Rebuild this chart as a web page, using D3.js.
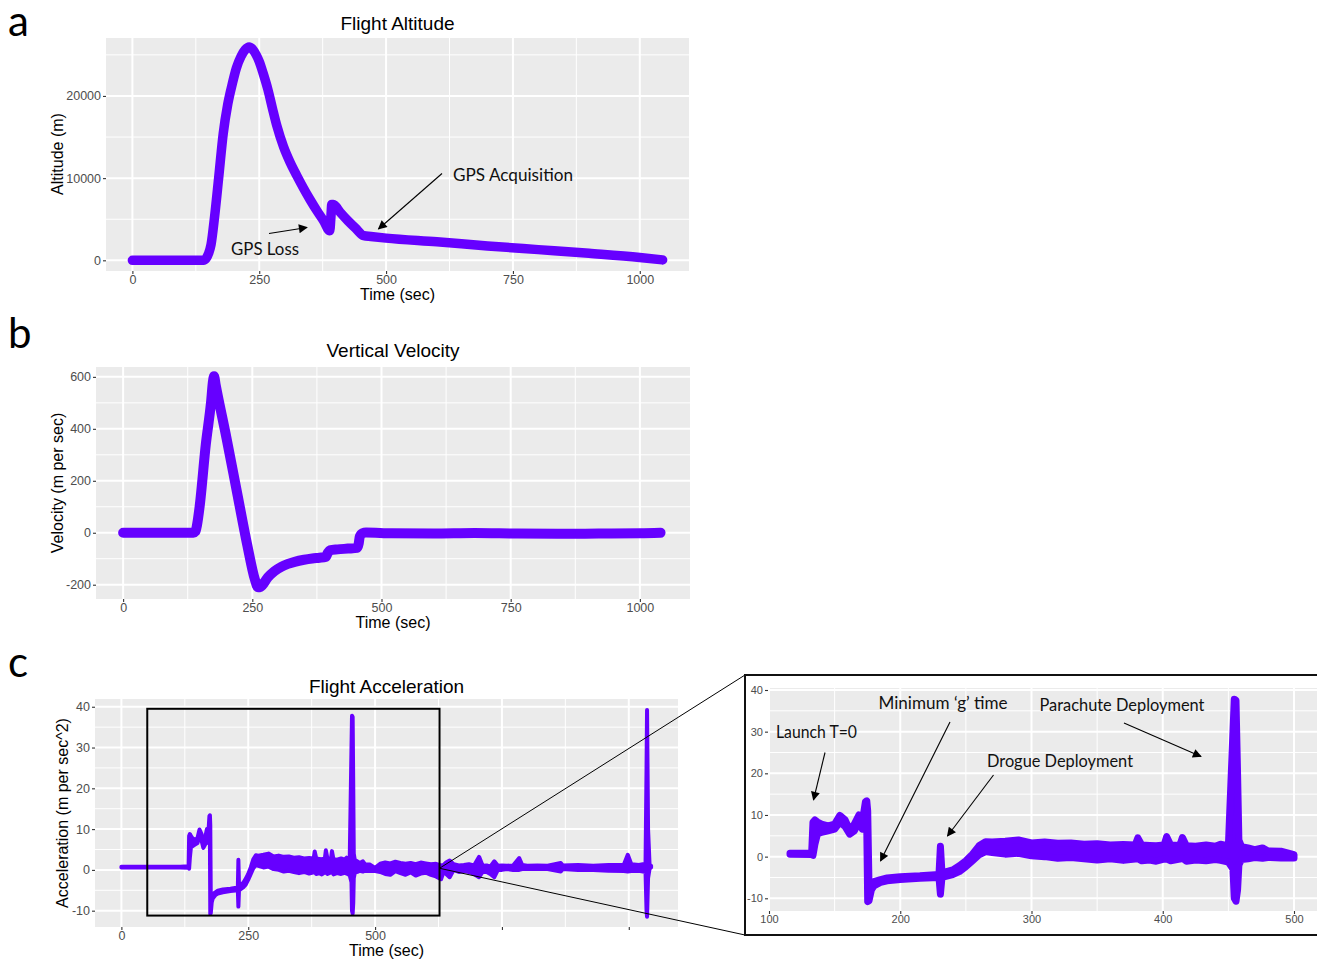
<!DOCTYPE html>
<html>
<head>
<meta charset="utf-8">
<script src="https://cdn.jsdelivr.net/npm/d3@7"></script>
<style>body{margin:0;background:#fff;}</style>
</head>
<body>
<div id="fig"></div>
<script>
var width = 1317;
var height = 959;
var purple = "#6600ff";
var axisFont = "'Liberation Sans', Arial, sans-serif";
var noteFont = "Lato, 'Open Sans', sans-serif";

// panel a: [time (sec), altitude (m)]
var altitude = [
  [0, 0], [140, 0], [145, 200], [150, 800], [155, 1900], [162, 5300], [170, 10000],
  [179, 15400], [188, 19000], [197, 21500], [205, 23400], [214, 24800], [222, 25600],
  [230, 25950], [238, 25600], [244, 25000], [250, 24200], [258, 22700], [267, 20800],
  [276, 18500], [285, 16300], [298, 13800], [311, 11900], [324, 10300], [337, 8800],
  [350, 7400], [364, 6000], [377, 4800], [389, 3600], [391, 5000], [393, 6800],
  [396, 6800], [410, 5800], [425, 4800], [440, 3900], [456, 3000], [470, 2900],
  [500, 2700], [600, 2250], [700, 1750], [800, 1300], [900, 850], [1000, 350], [1045, 50]
];

// panel b: [time (sec), velocity (m/s)]
var velocity = [
  [0, 0], [136, 0], [140, 5], [143, 30], [148, 100], [160, 340], [170, 500],
  [174, 585], [176, 602], [179, 570], [200, 365], [220, 160], [240, -45],
  [255, -180], [261, -210], [266, -208], [280, -172], [293, -148], [306, -131],
  [319, -120], [332, -112], [350, -104], [366, -99], [380, -96], [392, -93],
  [396, -78], [400, -68], [415, -64], [435, -61], [453, -58], [456, -40],
  [458, -15], [463, -2], [470, 1], [520, -2], [600, -3], [680, -1], [760, -3],
  [840, -4], [920, -3], [1000, -2], [1040, 0]
];

// panel c: [time (sec), low, high] of the acceleration band (m/s^2)
var accel = [
  [0, 0.6, 0.8], [116, 0.6, 0.8], [132.5, 0.5, 0.9], [133.5, 0.3, 8.3], [135, 3, 8.8],
  [137, 5.5, 8.3], [140, 5.8, 7.8], [145, 6.2, 7.4], [150, 6.6, 7.8], [154, 8.3, 9.9],
  [158, 7.2, 8.8], [161.5, 5.4, 6.4], [165, 6.2, 7.8], [168.5, 8.3, 10], [171, 6.6, 8.2],
  [173.5, 9, 13.2], [174.5, 6.5, 13.4], [175.2, -10.8, 11], [176.2, -10.6, -7],
  [178, -8, -6.5], [180, -7, -6], [185, -6.2, -5.5], [190, -5.8, -5.1], [200, -5.5, -4.8],
  [215, -5.2, -4.6], [229.5, -5, -4.3], [230.6, -9, 2.5], [231.8, -5, -3.9],
  [240, -4.3, -3.2], [245, -3.6, -2.2], [250, -2.4, -1], [255, -1, 0.6], [260, 0.4, 2.6],
  [265, 1.2, 3.6], [270, 1, 3.5], [280, 0.6, 3.7], [290, 0.8, 4], [300, 0.2, 3.3],
  [310, 0, 3.5], [320, -0.4, 3.2], [330, -0.2, 3.3], [340, -0.5, 3], [350, -0.8, 3.1],
  [360, -0.5, 2.8], [370, -0.9, 2.9], [379, -0.6, 2.8], [381, -0.5, 4.5], [384, -1, 2.8],
  [390, -0.8, 2.7], [395, -1.1, 2.6], [401, -0.6, 2.8], [403, -0.6, 4.8], [406, -1, 2.8],
  [413, -0.6, 2.7], [415, -0.4, 4.6], [418, -1.1, 2.6], [425, -0.8, 2.5], [433, -1, 2.8],
  [440, -0.7, 2.5], [444, -0.9, 3], [450, -1.3, 2.6], [453.5, -3, 30], [454.5, -10, 37.8],
  [455.8, -10.7, 37.5], [457, -8, 20], [458, -2, 4], [460, -0.7, 2.4], [465, -0.5, 2.1],
  [470, -0.2, 1.7], [476, -0.4, 2.1], [480, -0.2, 1.4], [490, -0.3, 1.3], [500, -0.3, 0.5],
  [510, -0.5, 1.5], [520, -1, 1.8], [530, -1.2, 1.6], [540, -0.3, 2], [550, -0.8, 1.7],
  [560, -1.2, 1.5], [570, -0.6, 1.7], [580, -1.4, 1.4], [590, -0.9, 1.8], [600, -0.7, 1.6],
  [610, -1.2, 1.4], [620, -1.6, 1.5], [630, -2.3, 1.1], [635, -0.5, 1.2], [640, -1, 1.8],
  [647, -1.8, 2.3], [655, 0, 1.4], [665, -0.5, 1.1], [675, -0.3, 1.2], [685, -0.5, 1.4],
  [695, -1, 1.1], [705, -1.8, 3.2], [712, -0.5, 1], [720, -0.5, 1.1], [727, -1, 0.8],
  [735, -1.8, 2.1], [742, 0, 1], [750, 0, 1.1], [760, 0.2, 1], [772, 0, 1.1],
  [784, 0, 2.9], [790, 0.2, 1.2], [800, 0.3, 1], [820, 0.2, 1.1], [840, 0.2, 1],
  [866, -0.4, 1.7], [870, 0.2, 1.1], [900, 0, 1.2], [930, 0, 1], [960, -0.2, 1.2],
  [990, -0.3, 1.2], [998, -0.4, 3.7], [1005, -0.3, 1.4], [1020, -0.2, 1.2],
  [1033, -0.5, 1.5], [1035, -10, 25], [1036, -11.5, 39.2], [1038, -2, 10],
  [1041, 0.3, 1.2], [1044, 0.6, 1]
];

var timeMajor = [0, 250, 500, 750, 1000];
var timeMinor = [125, 375, 625, 875];
var timeLabels = ["0", "250", "500", "750", "1000"];
var accTimeLabels = ["0", "250", "500", "", ""];
var altMajor = [0, 10000, 20000];
var altMinor = [5000, 15000, 25000];
var velMajor = [-200, 0, 200, 400, 600];
var velMinor = [-100, 100, 300, 500];
var accMajor = [-10, 0, 10, 20, 30, 40];
var accMinor = [-5, 5, 15, 25, 35];
var zoomMajor = [100, 200, 300, 400, 500];
var zoomMinor = [150, 250, 350, 450];

var svg = d3.select("#fig").append("svg")
    .attr("width", width)
    .attr("height", height)
    .style("background", "#fff");

var defs = svg.append("defs");
defs.append("marker")
    .attr("id", "head")
    .attr("viewBox", "0 0 10 10")
    .attr("refX", 9).attr("refY", 5)
    .attr("markerWidth", 11).attr("markerHeight", 9)
    .attr("markerUnits", "userSpaceOnUse")
    .attr("orient", "auto")
  .append("path")
    .attr("d", "M0,0L10,5L0,10Z")
    .attr("fill", "#000");

// grey ggplot-style panel with grid and axes
function ggPanel(g, x, y, box, xMaj, xMin, yMaj, yMin, xLab, yLab, fs) {
  var inX = function(d) { return x(d) >= box[0] && x(d) <= box[2]; };
  g.append("rect")
      .attr("x", box[0]).attr("y", box[1])
      .attr("width", box[2] - box[0]).attr("height", box[3] - box[1])
      .attr("fill", "#ebebeb");
  g.selectAll(null).data(xMin.filter(inX)).enter().append("line")
      .attr("x1", x).attr("x2", x).attr("y1", box[1]).attr("y2", box[3])
      .attr("stroke", "#fff").attr("stroke-width", 1);
  g.selectAll(null).data(yMin).enter().append("line")
      .attr("y1", y).attr("y2", y).attr("x1", box[0]).attr("x2", box[2])
      .attr("stroke", "#fff").attr("stroke-width", 1);
  g.selectAll(null).data(xMaj.filter(inX)).enter().append("line")
      .attr("x1", x).attr("x2", x).attr("y1", box[1]).attr("y2", box[3])
      .attr("stroke", "#fff").attr("stroke-width", 2);
  g.selectAll(null).data(yMaj).enter().append("line")
      .attr("y1", y).attr("y2", y).attr("x1", box[0]).attr("x2", box[2])
      .attr("stroke", "#fff").attr("stroke-width", 2);

  var style = function(a) {
    a.select(".domain").remove();
    a.attr("font-family", axisFont).attr("font-size", fs);
    a.selectAll("line").attr("stroke", "#333").attr("stroke-width", 1.1);
    a.selectAll("text").attr("fill", "#4d4d4d");
  };
  g.append("g")
      .attr("transform", "translate(0," + box[3] + ")")
      .call(d3.axisBottom(x).tickValues(xMaj)
        .tickFormat(function(d, i) { return xLab[i]; })
        .tickSize(3).tickPadding(1.5))
      .call(style);
  g.append("g")
      .attr("transform", "translate(" + box[0] + ",0)")
      .call(d3.axisLeft(y).tickValues(yMaj)
        .tickFormat(function(d, i) { return yLab[i]; })
        .tickSize(3).tickPadding(2))
      .call(style);
}

function titles(g, cx, ty, title, xTitle, xty, yTitle, ytx, cy) {
  g.append("text").attr("x", cx).attr("y", ty)
      .attr("text-anchor", "middle").attr("font-family", axisFont)
      .attr("font-size", 19).text(title);
  g.append("text").attr("x", cx).attr("y", xty)
      .attr("text-anchor", "middle").attr("font-family", axisFont)
      .attr("font-size", 16).text(xTitle);
  g.append("text")
      .attr("transform", "translate(" + ytx + "," + cy + ") rotate(-90)")
      .attr("text-anchor", "middle").attr("font-family", axisFont)
      .attr("font-size", 16).text(yTitle);
}

function note(x0, y0, w, txt) {
  svg.append("text").attr("x", x0).attr("y", y0)
      .attr("font-family", noteFont).attr("font-size", 18)
      .attr("textLength", w).attr("lengthAdjust", "spacingAndGlyphs")
      .attr("fill", "#111").text(txt);
}

function arrow(x1, y1, x2, y2) {
  svg.append("line")
      .attr("x1", x1).attr("y1", y1).attr("x2", x2).attr("y2", y2)
      .attr("stroke", "#000").attr("stroke-width", 1.1)
      .attr("marker-end", "url(#head)");
}

function panelLetter(x0, y0, s) {
  svg.append("text").attr("x", x0).attr("y", y0)
      .attr("font-family", noteFont).attr("font-size", 42)
      .text(s);
}

// ---------- a: altitude ----------
var boxA = [106, 38, 689, 271];
var xA = d3.scaleLinear().domain([-52, 1097]).range([boxA[0], boxA[2]]);
var yA = d3.scaleLinear().domain([-1300, 27050]).range([boxA[3], boxA[1]]);
var gA = svg.append("g");
ggPanel(gA, xA, yA, boxA, timeMajor, timeMinor, altMajor, altMinor,
        timeLabels, altMajor.map(String), 12.5);
gA.append("path")
    .datum(altitude)
    .attr("d", d3.line().curve(d3.curveMonotoneX)
      .x(function(d) { return xA(d[0]); }).y(function(d) { return yA(d[1]); }))
    .attr("fill", "none").attr("stroke", purple).attr("stroke-width", 9.5)
    .attr("stroke-linejoin", "round").attr("stroke-linecap", "round");
titles(gA, 397.5, 30, "Flight Altitude", "Time (sec)", 299.5, "Altitude (m)", 63, 154);
panelLetter(8, 36, "a");
note(231, 255, 68, "GPS Loss");
arrow(269, 233.5, 307, 227.5);
note(453, 181, 120, "GPS Acquisition");
arrow(442, 173.5, 378.5, 229);

// ---------- b: velocity ----------
var boxB = [96, 367, 690, 599];
var xB = d3.scaleLinear().domain([-52.5, 1097]).range([boxB[0], boxB[2]]);
var yB = d3.scaleLinear().domain([-255, 638]).range([boxB[3], boxB[1]]);
var gB = svg.append("g");
ggPanel(gB, xB, yB, boxB, timeMajor, timeMinor, velMajor, velMinor,
        timeLabels, velMajor.map(String), 12.5);
gB.append("path")
    .datum(velocity)
    .attr("d", d3.line().curve(d3.curveMonotoneX)
      .x(function(d) { return xB(d[0]); }).y(function(d) { return yB(d[1]); }))
    .attr("fill", "none").attr("stroke", purple).attr("stroke-width", 10)
    .attr("stroke-linejoin", "round").attr("stroke-linecap", "round");
titles(gB, 393, 357, "Vertical Velocity", "Time (sec)", 628, "Velocity (m per sec)", 63, 483);
panelLetter(8, 348, "b");

// ---------- c: acceleration ----------
var boxC = [95, 699, 678, 927];
var xC = d3.scaleLinear().domain([-52, 1097]).range([boxC[0], boxC[2]]);
var yC = d3.scaleLinear().domain([-14, 41.9]).range([boxC[3], boxC[1]]);
var gC = svg.append("g");
ggPanel(gC, xC, yC, boxC, timeMajor, timeMinor, accMajor, accMinor,
        accTimeLabels, accMajor.map(String), 12.5);
gC.append("path")
    .datum(accel)
    .attr("d", d3.area().x(function(d) { return xC(d[0]); })
      .y0(function(d) { return yC(d[1]); }).y1(function(d) { return yC(d[2]); }))
    .attr("fill", purple).attr("stroke", purple).attr("stroke-width", 4)
    .attr("stroke-linejoin", "round");
titles(gC, 386.5, 693, "Flight Acceleration", "Time (sec)", 956, "Acceleration (m per sec^2)", 68, 813);
panelLetter(8, 677, "c");

// zoom window and its callout lines
gC.append("rect")
    .attr("x", xC(51)).attr("y", yC(39.5))
    .attr("width", xC(627) - xC(51)).attr("height", yC(-11.2) - yC(39.5))
    .attr("fill", "none").attr("stroke", "#000").attr("stroke-width", 2);
svg.append("line").attr("x1", xC(627)).attr("y1", yC(0.4)).attr("x2", 745).attr("y2", 675)
    .attr("stroke", "#000").attr("stroke-width", 1);
svg.append("line").attr("x1", xC(627)).attr("y1", yC(0.4)).attr("x2", 745).attr("y2", 935)
    .attr("stroke", "#000").attr("stroke-width", 1);

// ---------- c inset ----------
svg.append("rect")
    .attr("x", 745).attr("y", 675).attr("width", 600).attr("height", 260)
    .attr("fill", "#fff").attr("stroke", "#111").attr("stroke-width", 2);
var boxZ = [768, 688, 1317, 911];
var xZ = d3.scaleLinear().domain([100, 500]).range([769, 1294]);
var yZ = d3.scaleLinear().domain([-10, 40]).range([898.3, 690]);
var gZ = svg.append("g");
ggPanel(gZ, xZ, yZ, boxZ, zoomMajor, zoomMinor, accMajor, accMinor,
        zoomMajor.map(String), accMajor.map(String), 11);
gZ.append("path")
    .datum(accel.filter(function(d) { return d[0] >= 116 && d[0] <= 500; }))
    .attr("d", d3.area().x(function(d) { return xZ(d[0]); })
      .y0(function(d) { return yZ(d[1]); }).y1(function(d) { return yZ(d[2]); }))
    .attr("fill", purple).attr("stroke", purple).attr("stroke-width", 7)
    .attr("stroke-linejoin", "round").attr("stroke-linecap", "round");

note(776, 738, 81, "Launch T=0");
arrow(825, 752.5, 813.5, 800);
note(878.5, 709, 129, "Minimum \u2018g\u2019 time");
arrow(950, 722, 880.5, 861);
note(987, 767, 146, "Drogue Deployment");
arrow(993.5, 775, 947.5, 836);
note(1039.5, 711, 165, "Parachute Deployment");
arrow(1124, 723, 1201, 756.5);
</script>
</body>
</html>
